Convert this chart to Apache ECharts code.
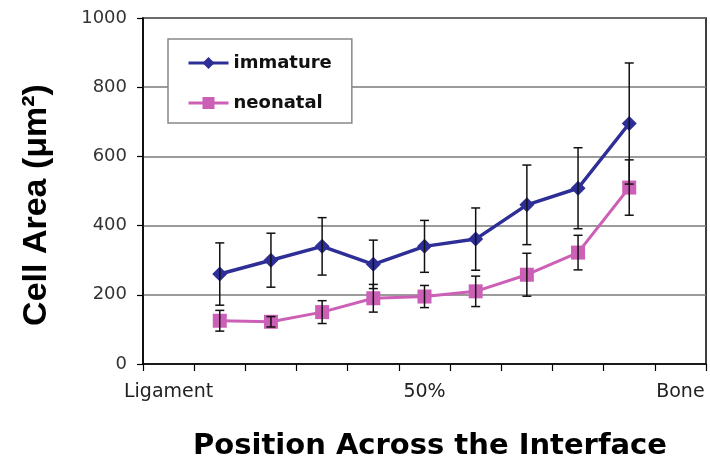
<!DOCTYPE html>
<html>
<head>
<meta charset="utf-8">
<script src="https://cdn.jsdelivr.net/npm/echarts@6/dist/echarts.min.js"></script>
<style>
    html, body { margin: 0; padding: 0; background: #fff; }
    #chart { width: 710px; height: 466px; }
</style>
</head>
<body>
<div id="chart"></div>
<script>
// categories across the interface (first / last slot are empty)
const positions = ['Ligament', '', '', '', '', '50%', '', '', '', '', 'Bone'];
const immature = [null, 260, 300, 340, 288, 340, 361, 460, 508, 695, null];
const immatureErr = [null, 90, 78, 83, 70, 75, 90, 115, 117, 175, null];
const neonatal = [null, 125, 122, 150, 190, 195, 210, 258, 322, 510, null];
const neonatalErr = [null, 30, 15, 33, 40, 32, 44, 62, 50, 80, null];

const blue = '#2D2E96';
const pink = '#CC60B6';

function errorData(vals, errs) {
    let result = [];
    for (let i = 0; i < vals.length; i++) {
        if (vals[i] != null) {
            result.push([i, vals[i] - errs[i], vals[i] + errs[i]]);
        }
    }
    return result;
}

function renderErr(params, api) {
    let lo = api.coord([api.value(0), api.value(1)]);
    let hi = api.coord([api.value(0), api.value(2)]);
    let w = 4.5;
    let st = {stroke: '#111', lineWidth: 1.5};
    return {
        type: 'group',
        children: [
            {type: 'line', shape: {x1: lo[0], y1: lo[1], x2: hi[0], y2: hi[1]}, style: st},
            {type: 'line', shape: {x1: lo[0] - w, y1: lo[1], x2: lo[0] + w, y2: lo[1]}, style: st},
            {type: 'line', shape: {x1: hi[0] - w, y1: hi[1], x2: hi[0] + w, y2: hi[1]}, style: st}
        ]
    };
}

let myChart = echarts.init(document.getElementById('chart'));
myChart.setOption({
    animation: false,
    grid: {
        left: 143, right: 4, top: 18, bottom: 102,
        show: true, borderColor: '#000', borderWidth: 1.5
    },
    legend: {
        orient: 'vertical', left: 168, top: 39,
        padding: [15, 20, 11, 19],
        itemWidth: 40, itemHeight: 15, itemGap: 22,
        backgroundColor: '#fff', borderColor: '#888', borderWidth: 1.5,
        lineStyle: {width: 3},
        textStyle: {fontFamily: 'DejaVu Sans', fontWeight: 'bold', fontSize: 18, color: '#111'},
        data: ['immature', 'neonatal']
    },
    xAxis: {
        type: 'category',
        data: positions,
        boundaryGap: true,
        axisLine: {show: true, lineStyle: {color: '#000', width: 1.5}},
        axisTick: {show: true, interval: 0, length: 7, lineStyle: {color: '#000', width: 1.2}},
        axisLabel: {interval: 0, margin: 19, fontFamily: 'DejaVu Sans', fontSize: 19, color: '#222'},
        splitLine: {show: false}
    },
    yAxis: {
        type: 'value',
        min: 0, max: 1000, interval: 200,
        axisLine: {show: true, lineStyle: {color: '#000', width: 1.5}},
        axisTick: {show: true, length: 6, lineStyle: {color: '#000', width: 1.2}},
        axisLabel: {
            margin: 16, fontFamily: 'DejaVu Sans', fontSize: 18, color: '#333',
            formatter: (v) => String(v)
        },
        splitLine: {show: true, lineStyle: {color: '#7a7a7a', width: 1.5}}
    },
    graphic: [
        {
            type: 'text', x: 37, y: 205, rotation: Math.PI / 2,
            style: {
                text: 'Cell Area (μm²)', fill: '#000',
                font: 'bold 34px "Liberation Sans"',
                align: 'center', verticalAlign: 'middle'
            }
        },
        {
            type: 'text', x: 430, y: 446,
            style: {
                text: 'Position Across the Interface', fill: '#000',
                font: 'bold 29px "DejaVu Sans"',
                align: 'center', verticalAlign: 'middle'
            }
        }
    ],
    series: [
        {
            name: 'immature', type: 'line', data: immature,
            symbol: 'diamond', symbolSize: 15,
            itemStyle: {color: blue},
            lineStyle: {color: blue, width: 3.5},
            z: 3
        },
        {
            name: 'neonatal', type: 'line', data: neonatal,
            symbol: 'rect', symbolSize: 14,
            itemStyle: {color: pink},
            lineStyle: {color: pink, width: 3},
            z: 2
        },
        {
            type: 'custom', name: 'immatureErr', silent: true,
            data: errorData(immature, immatureErr),
            encode: {x: 0, y: [1, 2]},
            renderItem: renderErr, z: 5
        },
        {
            type: 'custom', name: 'neonatalErr', silent: true,
            data: errorData(neonatal, neonatalErr),
            encode: {x: 0, y: [1, 2]},
            renderItem: renderErr, z: 5
        }
    ]
});
</script>
</body>
</html>
